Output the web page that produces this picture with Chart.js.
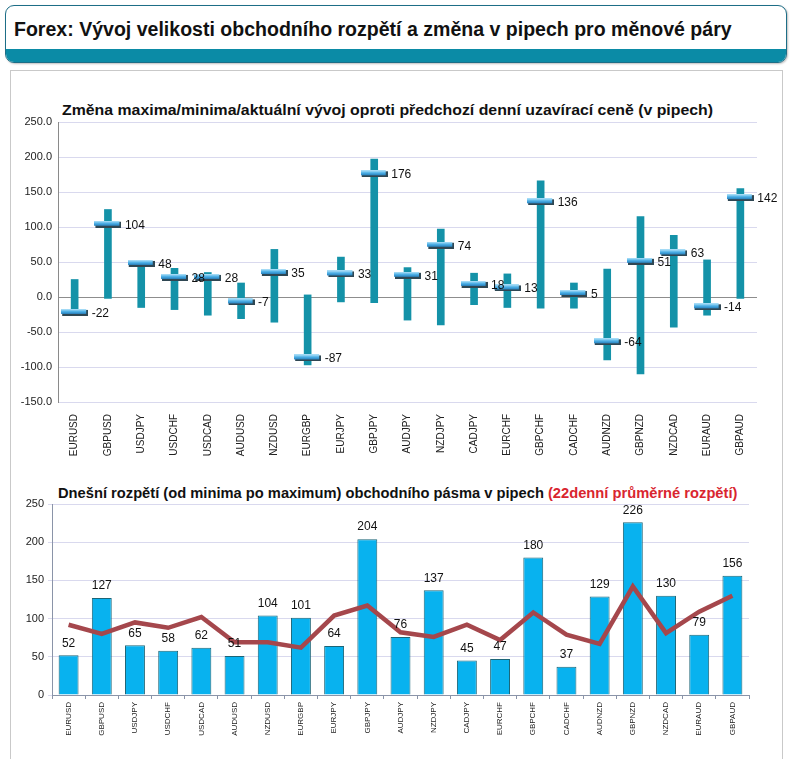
<!DOCTYPE html>
<html lang="cs">
<head>
<meta charset="utf-8">
<title>Forex rozpětí</title>
<script src="https://cdn.jsdelivr.net/npm/chart.js@4.4.0/dist/chart.umd.min.js"></script>
<style>
  body { margin: 0; width: 791px; height: 759px; overflow: hidden; position: relative; background: #fff; font-family: Arial, "Liberation Sans", sans-serif; }
  #hlavicka { position: absolute; left: 5px; top: 5px; width: 782px; height: 58px; box-sizing: border-box; border: 1px solid #1d6e87; border-radius: 9px; overflow: hidden; background: #fff; box-shadow: 1px 1px 2px rgba(0,0,0,0.25); }
  #hlavicka .pas { position: absolute; left: 0; right: 0; bottom: 0; height: 13px; background: #0b8ba6; }
  .nadpis { position: absolute; white-space: nowrap; font-weight: bold; transform-origin: 0 50%; }
  #panel { position: absolute; left: 10px; top: 70px; width: 773px; height: 720px; box-sizing: border-box; border: 1px solid #c9c9c9; }
  .obal { position: absolute; left: 10px; width: 770px; }
  .cervena { color: #d9252f; }
</style>
</head>
<body>
<div id="hlavicka"><div class="pas"></div></div>
<div class="nadpis" data-w="718" style="left:14px; top:18px; font-size:20px; color:#111;">Forex: Vývoj velikosti obchodního rozpětí a změna v pipech pro měnové páry</div>
<div id="panel"></div>

<div class="nadpis" data-w="651" style="left:62px; top:101px; font-size:15px; color:#111;">Změna maxima/minima/aktuální vývoj oproti předchozí denní uzavírací ceně (v pipech)</div>
<div class="obal" style="top:95px; height:370px;"><canvas id="grafZmena"></canvas></div>

<div class="nadpis" data-w="679" style="left:58px; top:484px; font-size:15px; color:#111;">Dnešní rozpětí (od minima po maximum) obchodního pásma v pipech <span class="cervena">(22denní průměrné rozpětí)</span></div>
<div class="obal" style="top:478px; height:281px;"><canvas id="grafRozpeti"></canvas></div>

<script>
const pary = ["EURUSD", "GBPUSD", "USDJPY", "USDCHF", "USDCAD", "AUDUSD", "NZDUSD", "EURGBP", "EURJPY", "GBPJPY", "AUDJPY",
  "NZDJPY", "CADJPY", "EURCHF", "GBPCHF", "CADCHF", "AUDNZD", "GBPNZD", "NZDCAD", "EURAUD", "GBPAUD"];

// horní graf: maximum, minimum a aktuální změna proti včerejší uzavírací ceně
const maxima = [25, 125, 50, 41, 35, 20, 68, 3, 57, 197, 42, 97, 34, 33, 166, 20, 40, 115, 88, 53, 155];
const minima = [-26, -2, -15, -18, -26, -31, -36, -97, -7, -8, -33, -40, -11, -15, -16, -16, -90, -110, -43, -26, -2];
const aktualni = [-22, 104, 48, 28, 28, -7, 35, -87, 33, 176, 31, 74, 18, 13, 136, 5, -64, 51, 63, -14, 142];
const zmenaTicks = [-150, -100, -50, 0, 50, 100, 150, 200, 250];

// dolní graf: dnešní rozpětí a 22denní průměr
const rozpeti = [52, 127, 65, 58, 62, 51, 104, 101, 64, 204, 76, 137, 45, 47, 180, 37, 129, 226, 130, 79, 156];
const prumer22 = [92, 80, 95, 88, 102, 69, 69, 62, 104, 117, 82, 76, 92, 72, 108, 79, 67, 142, 81, 109, 130];
const rozpetiTicks = [0, 50, 100, 150, 200, 250];

// srovnat šířku nadpisů podle předlohy
document.querySelectorAll(".nadpis").forEach(el => {
  const cil = parseFloat(el.dataset.w);
  el.style.transform = `scaleX(${cil / el.offsetWidth})`;
});

// značka aktuální hodnoty (modrá příčka)
function udelejZnacku() {
  const c = document.createElement("canvas");
  c.width = 27; c.height = 7;
  const g = c.getContext("2d");
  g.fillStyle = "#2f4753";
  g.fillRect(1, 1, 26, 6);
  const grad = g.createLinearGradient(0, 0, 0, 6);
  grad.addColorStop(0, "#b9e6fa");
  grad.addColorStop(0.45, "#49aee6");
  grad.addColorStop(1, "#1c6fae");
  g.fillStyle = grad;
  g.fillRect(0, 0, 25, 5);
  return c;
}

// popisky hodnot bez pluginu datalabels
const popisky = {
  id: "popisky",
  afterDatasetsDraw(chart, args, opts) {
    const meta = chart.getDatasetMeta(opts.dataset);
    const data = chart.data.datasets[opts.dataset].data;
    const ctx = chart.ctx;
    ctx.save();
    ctx.font = opts.font;
    ctx.fillStyle = "#111";
    ctx.textAlign = opts.align;
    ctx.textBaseline = "middle";
    meta.data.forEach((el, i) => {
      ctx.fillText(String(data[i]), el.x + opts.dx, el.y + opts.dy);
    });
    ctx.restore();
  }
};

const mriz = "#d9d9ee";

new Chart(document.getElementById("grafZmena"), {
  type: "bar",
  data: {
    labels: pary,
    datasets: [
      {
        type: "line",
        label: "aktuální",
        data: aktualni,
        showLine: false,
        pointStyle: udelejZnacku(),
        pointRadius: 13,
        pointHoverRadius: 13,
        order: 0
      },
      {
        label: "rozsah",
        data: minima.map((m, i) => [m, maxima[i]]),
        backgroundColor: "#1492a8",
        barThickness: 7,
        order: 1
      }
    ]
  },
  options: {
    responsive: true,
    maintainAspectRatio: false,
    animation: false,
    layout: { padding: { left: 0, right: 23, top: 27, bottom: 0 } },
    plugins: {
      legend: { display: false },
      tooltip: { enabled: false },
      popisky: { dataset: 0, font: "12px Arial, 'Liberation Sans'", align: "left", dx: 17, dy: 1 }
    },
    scales: {
      x: {
        grid: { display: false },
        border: { display: false },
        ticks: { color: "#222", font: { size: 10, family: "Arial" }, minRotation: 90, maxRotation: 90, padding: 4 },
        afterFit(s) { s.height = 63; }
      },
      y: {
        min: -150,
        max: 250,
        afterBuildTicks(s) { s.ticks = zmenaTicks.map(v => ({ value: v })); },
        grid: { color: c => (c.tick && c.tick.value === 0 ? "#8d8d8d" : mriz), drawTicks: false },
        border: { color: "#8a8a8a" },
        ticks: { color: "#222", font: { size: 11, family: "Arial" }, padding: 6, callback: v => v.toFixed(1) },
        afterFit(s) { s.width = 48; }
      }
    }
  },
  plugins: [popisky]
});

new Chart(document.getElementById("grafRozpeti"), {
  type: "bar",
  data: {
    labels: pary,
    datasets: [
      {
        type: "line",
        label: "22denní průměr",
        data: prumer22,
        borderColor: "#a5474c",
        borderWidth: 4.5,
        pointRadius: 0,
        tension: 0,
        order: 0
      },
      {
        label: "dnešní rozpětí",
        data: rozpeti,
        backgroundColor: "#08b2ef",
        borderColor: "#1c6577",
        borderWidth: 1,
        barPercentage: 0.6,
        categoryPercentage: 1,
        order: 1
      }
    ]
  },
  options: {
    responsive: true,
    maintainAspectRatio: false,
    animation: false,
    layout: { padding: { left: 0, right: 31, top: 26, bottom: 0 } },
    plugins: {
      legend: { display: false },
      tooltip: { enabled: false },
      popisky: { dataset: 1, font: "12px Arial, 'Liberation Sans'", align: "center", dx: 0, dy: -12 }
    },
    scales: {
      x: {
        grid: { display: true, drawOnChartArea: false, color: "#8a94a8", tickLength: 4, offset: true },
        border: { color: "#8a94a8" },
        ticks: { color: "#222", font: { size: 8, family: "Arial" }, minRotation: 90, maxRotation: 90, padding: 3 },
        afterFit(s) { s.height = 64; }
      },
      y: {
        min: 0,
        max: 250,
        afterBuildTicks(s) { s.ticks = rozpetiTicks.map(v => ({ value: v })); },
        grid: { color: mriz, tickLength: 4 },
        border: { color: "#8a94a8" },
        ticks: { color: "#222", font: { size: 11, family: "Arial" }, padding: 4 },
        afterFit(s) { s.width = 42; }
      }
    }
  },
  plugins: [popisky]
});
</script>
</body>
</html>
